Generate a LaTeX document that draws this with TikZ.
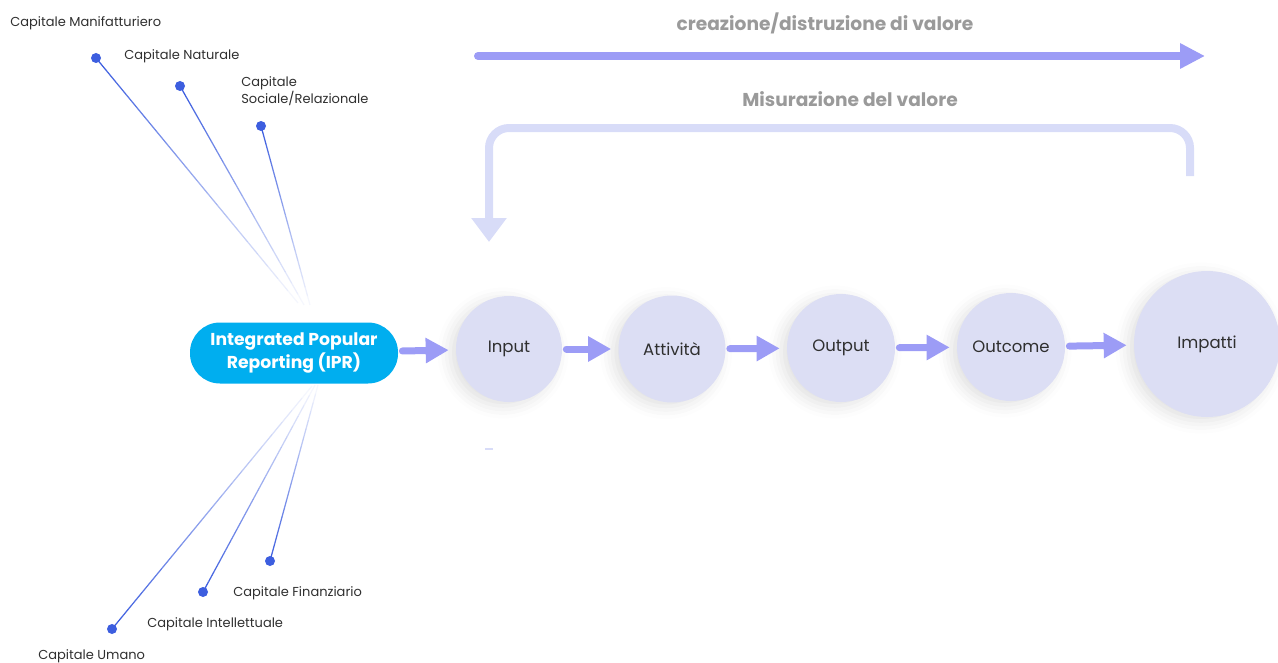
\documentclass[tikz,border=0pt]{standalone}
\usepackage{fontspec}
\setmainfont{Poppins}
\usetikzlibrary{arrows.meta,calc,shadows.blur}
\definecolor{iprblue}{HTML}{00AEEF}
\definecolor{bubble}{HTML}{DCDEF4}
\definecolor{flowc}{HTML}{9C9CF6}
\definecolor{backc}{HTML}{D8DCF8}
\definecolor{dotc}{HTML}{3D5EDF}
\definecolor{titlec}{HTML}{9A9A9A}
\definecolor{labc}{HTML}{2F2F2F}

\begin{document}
\begin{tikzpicture}[x=0.2mm, y=-0.2mm,
  main/.style = {circle, fill=bubble, text=labc, inner sep=0, font=\fontsize{9.4}{11}\selectfont,
    blur shadow={shadow xshift=-1.2mm, shadow yshift=-0.8mm, shadow opacity=12, shadow blur radius=2.5mm}},
  dot/.style = {circle, fill=dotc, inner sep=0, minimum size=2mm},
  capital/.style = {anchor=west, align=left, inner sep=0, text=labc, font=\fontsize{7.4}{9.6}\selectfont},
  title/.style = {text=titlec, font=\bfseries\fontsize{10.6}{12}\selectfont},
  flow/.style = {draw=flowc, line width=1.4mm, line cap=round, shorten <=0.8mm, shorten >=1.4mm,
    -{Triangle[width=4.8mm, length=4.6mm]}},
  spoke/.style = {draw=dotc, line width=0.25mm}]
\useasboundingbox (0,0) rectangle (1278,662);

% titles and long arrows
\node[title] (t1) at (825,23) {creazione/distruzione di valore};
\node[title] (t2) at (850,99) {Misurazione del valore};
\coordinate (ts) at (478,56);
\coordinate (te) at (1205,56);
\draw[draw=flowc, line width=1.6mm, line cap=round, -{Triangle[width=4.8mm, length=5mm]}] (ts) -- (te);
\coordinate (fs) at (1190,176);
\coordinate (fe) at (489,242);
\draw[draw=backc, line width=1.6mm, rounded corners=4mm, -{Triangle[width=6.8mm, length=4.8mm]}] (fs) -- ++(0,-48) -| (fe);
\fill[backc] (485,448) rectangle (493,450);

% chain
\node[rectangle, rounded corners=6mm, fill=iprblue, text=white, minimum width=41.6mm, minimum height=12.2mm,
  align=center, font=\bfseries\fontsize{9.8}{12.8}\selectfont] (ipr) at (294,353) {Integrated Popular\\Reporting (IPR)};
\node[main, minimum size=21.2mm] (in) at (509,349) {Input};
\node[main, minimum size=21.4mm] (att) at (672,349) {Attività};
\node[main, minimum size=21.6mm] (out) at (841,348) {Output};
\node[main, minimum size=21.6mm] (oc) at (1011,347) {Outcome};
\node[main, minimum size=29.2mm] (imp) at (1207,344) {Impatti};
\draw[flow] (ipr) -- (in);
\draw[flow] (in) -- (att);
\draw[flow] (att) -- (out);
\draw[flow] (out) -- (oc);
\draw[flow] (oc) -- (imp);

% capitals
\node[dot] (d1) at (96,58) {};
\node[dot] (d2) at (180,86) {};
\node[dot] (d3) at (261,126) {};
\node[dot] (d4) at (270,561) {};
\node[dot] (d5) at (203,592) {};
\node[dot] (d6) at (112,629) {};
\coordinate (h1) at (298,303);
\coordinate (h2) at (304,305);
\coordinate (h3) at (310,305);
\coordinate (h4) at (318,385);
\coordinate (h5) at (315,385);
\coordinate (h6) at (312,386);
\foreach \d/\h in {d1/h1, d2/h2, d3/h3, d4/h4, d5/h5, d6/h6}{
  \foreach \i in {0,...,19}{
    \pgfmathsetmacro\op{(\i+1)/20}
    \pgfmathsetmacro\a{\i/20}
    \draw[spoke, draw opacity=\op] ($(\h)!\a!(\d)$) -- ($(\h)!\op!(\d)$);
  }
}
\node[capital] (c1) at (10,23) {Capitale Manifatturiero};
\node[capital] (c2) at (124,56) {Capitale Naturale};
\node[capital] (c3) at (241,91) {Capitale\\Sociale/Relazionale};
\node[capital] (c4) at (233,593) {Capitale Finanziario};
\node[capital] (c5) at (147,624) {Capitale Intellettuale};
\node[capital] (c6) at (38,656) {Capitale Umano};
\end{tikzpicture}
\end{document}
